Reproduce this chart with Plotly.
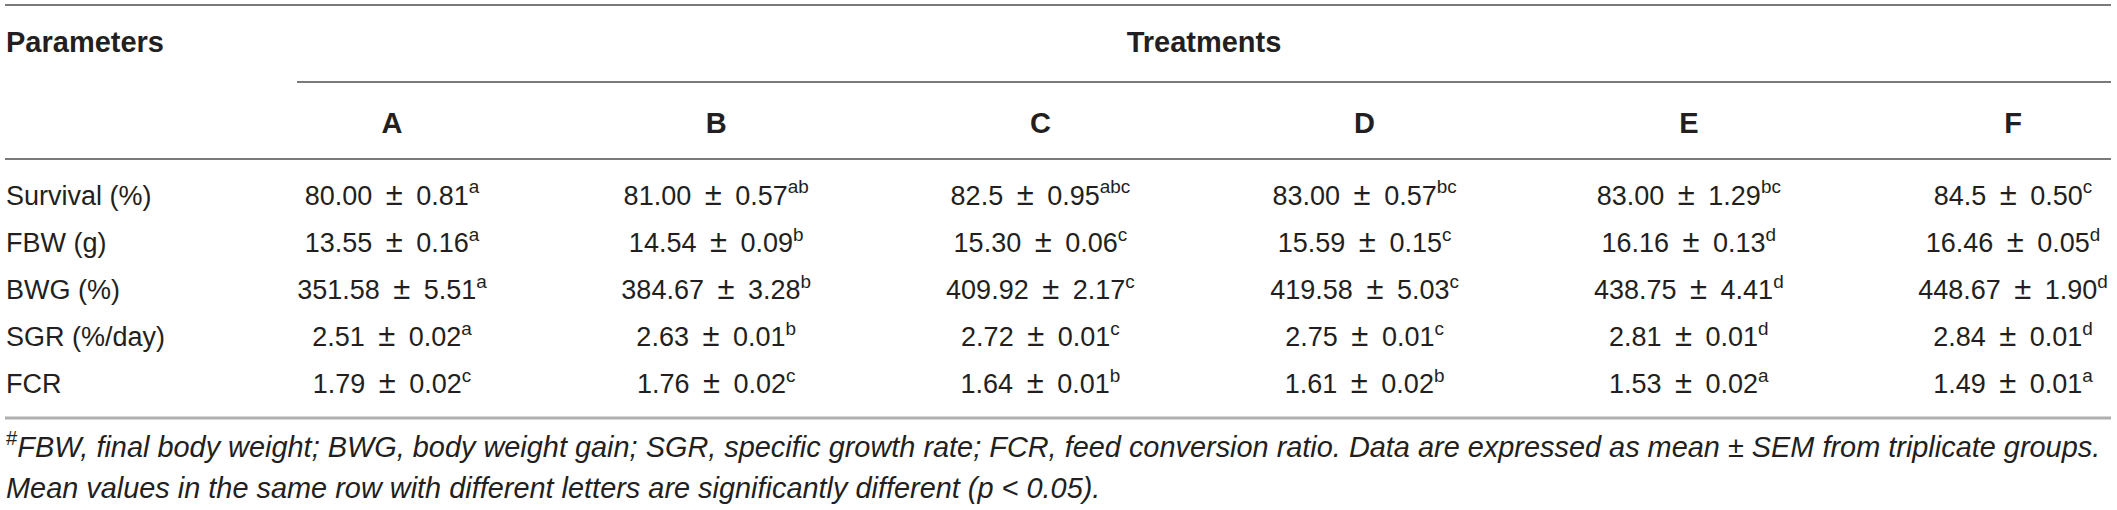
import plotly.graph_objects as go

# ---------------- data ----------------
parameters = ["Survival (%)", "FBW (g)", "BWG (%)", "SGR (%/day)", "FCR"]
treatments = ["A", "B", "C", "D", "E", "F"]

means = [
    ["80.00", "81.00", "82.5", "83.00", "83.00", "84.5"],
    ["13.55", "14.54", "15.30", "15.59", "16.16", "16.46"],
    ["351.58", "384.67", "409.92", "419.58", "438.75", "448.67"],
    ["2.51", "2.63", "2.72", "2.75", "2.81", "2.84"],
    ["1.79", "1.76", "1.64", "1.61", "1.53", "1.49"],
]
sems = [
    ["0.81", "0.57", "0.95", "0.57", "1.29", "0.50"],
    ["0.16", "0.09", "0.06", "0.15", "0.13", "0.05"],
    ["5.51", "3.28", "2.17", "5.03", "4.41", "1.90"],
    ["0.02", "0.01", "0.01", "0.01", "0.01", "0.01"],
    ["0.02", "0.02", "0.01", "0.02", "0.02", "0.01"],
]
letters = [
    ["a", "ab", "abc", "bc", "bc", "c"],
    ["a", "b", "c", "c", "d", "d"],
    ["a", "b", "c", "c", "d", "d"],
    ["a", "b", "c", "c", "d", "d"],
    ["c", "c", "b", "b", "a", "a"],
]

header_left = "Parameters"
header_group = "Treatments"
footnote_lines = [
    "<sup>#</sup><i>FBW, final body weight; BWG, body weight gain; SGR, specific growth rate; "
    "FCR, feed conversion ratio. Data are expressed as mean ± SEM from triplicate groups.</i>",
    "<i>Mean values in the same row with different letters are significantly different (p &lt; 0.05).</i>",
]

# ---------------- layout constants ----------------
W, H = 2117, 510
FONT = "Liberation Sans, Arial, sans-serif"
TXT = "#231f20"
FS = 27
FS_HEAD = 29
FS_FOOT = 28.9
col_x0, col_step = 392, 324.2
left_x = 6
dy = 3
row_y0, row_step = 195 + dy, 47.1
y_head1, y_head2 = 42 + dy, 123 + dy
y_line_top, y_line_group, y_line_head, y_line_bottom = 5, 82, 159, 418
line_x0 = 5
group_x0, group_x1 = 297, 2111
foot_y = [447 + dy, 488 + dy]
PM = '\u2002<span style="font-size:31px">±</span>\u2002'

col_x = [col_x0 + i * col_step for i in range(len(treatments))]
row_y = [row_y0 + j * row_step for j in range(len(parameters))]

fig = go.Figure()


def text_trace(x, y, text, pos, size):
    return go.Scatter(
        x=x, y=y, mode="text", text=text, textposition=pos,
        textfont=dict(family=FONT, size=size, color=TXT),
        cliponaxis=False, hoverinfo="skip", showlegend=False)


# header texts
fig.add_trace(text_trace([left_x], [y_head1], [f"<b>{header_left}</b>"],
                         "middle right", FS_HEAD))
fig.add_trace(text_trace([(group_x0 + group_x1) / 2], [y_head1],
                         [f"<b>{header_group}</b>"], "middle center", FS_HEAD))
fig.add_trace(text_trace(col_x, [y_head2] * len(treatments),
                         [f"<b>{t}</b>" for t in treatments], "middle center", FS_HEAD))

# parameter names
fig.add_trace(text_trace([left_x] * len(parameters), row_y, parameters,
                         "middle right", FS))

# cells
cx, cy, ct = [], [], []
for j in range(len(parameters)):
    for i in range(len(treatments)):
        cx.append(col_x[i])
        cy.append(row_y[j])
        ct.append(f"{means[j][i]}{PM}{sems[j][i]}<sup>{letters[j][i]}</sup>")
fig.add_trace(text_trace(cx, cy, ct, "middle center", FS))

# footnotes
fig.add_trace(text_trace([left_x] * len(footnote_lines), foot_y, footnote_lines,
                         "middle right", FS_FOOT))

# rules
shapes = [
    dict(type="line", x0=line_x0, x1=group_x1, y0=y_line_top, y1=y_line_top,
         line=dict(color="#7a7a7a", width=2)),
    dict(type="line", x0=group_x0, x1=group_x1, y0=y_line_group, y1=y_line_group,
         line=dict(color="#7a7a7a", width=2)),
    dict(type="line", x0=line_x0, x1=group_x1, y0=y_line_head, y1=y_line_head,
         line=dict(color="#7a7a7a", width=2)),
    dict(type="line", x0=line_x0, x1=group_x1, y0=y_line_bottom, y1=y_line_bottom,
         line=dict(color="#b0b0b0", width=3)),
]
for s in shapes:
    s.update(xref="x", yref="y", layer="below")

fig.update_layout(
    width=W, height=H, margin=dict(l=0, r=0, t=0, b=0),
    paper_bgcolor="white", plot_bgcolor="white",
    shapes=shapes,
    xaxis=dict(range=[0, W], visible=False, fixedrange=True),
    yaxis=dict(range=[H, 0], visible=False, fixedrange=True),
    showlegend=False,
)

# the page's default 8px body margin would shift and clip the figure
fig.write_html(
    "out.html",
    config={"displayModeBar": False},
    post_script="document.body.style.margin='0';document.body.style.overflow='hidden';",
)
